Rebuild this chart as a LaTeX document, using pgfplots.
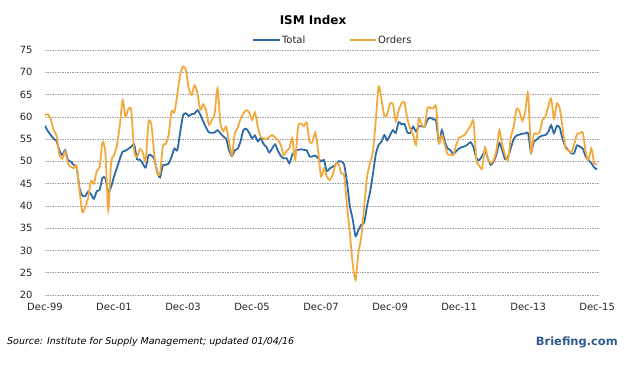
\documentclass[border=0pt]{standalone}
\usepackage{pgfplots}
\pgfplotsset{compat=1.18}
\usepackage{pgfplotstable}
\usepackage{fontspec}
\setmainfont{DejaVu Sans}
\definecolor{ismblue}{HTML}{2E6BA6}
\definecolor{ismorange}{HTML}{F2AA3E}
\definecolor{brief}{HTML}{2F5A8E}
\pgfplotstableread{
m T O
0 58.0 60.3
1 56.8 60.6
2 55.9 59.5
3 55.1 57.0
4 54.6 55.8
5 52.5 51.5
6 51.4 50.6
7 52.5 52.2
8 50.3 49.6
9 49.9 48.8
10 49.2 48.5
11 48.6 49.0
12 44.0 43.5
13 42.3 38.6
14 42.2 39.8
15 43.2 41.8
16 42.6 45.6
17 41.6 45.0
18 43.3 47.8
19 43.6 48.8
20 46.3 54.3
21 46.2 52.0
22 43.0 39.0
23 44.3 49.8
24 46.6 51.4
25 48.5 53.5
26 50.5 58.0
27 52.2 63.8
28 52.4 60.0
29 52.8 61.8
30 53.3 61.4
31 53.8 52.3
32 50.5 51.0
33 50.4 52.8
34 49.5 52.0
35 48.6 50.0
36 51.4 58.8
37 51.3 58.2
38 50.6 51.5
39 47.7 47.4
40 46.4 47.3
41 49.1 53.5
42 49.2 53.9
43 49.5 56.0
44 51.0 61.2
45 52.9 61.0
46 52.5 65.0
47 56.5 69.5
48 60.3 71.3
49 60.8 70.5
50 60.2 66.3
51 60.6 64.9
52 60.7 67.1
53 61.5 65.3
54 60.5 61.5
55 59.0 62.8
56 57.6 61.5
57 56.5 58.2
58 56.4 59.3
59 56.5 60.8
60 57.0 66.4
61 56.3 58.5
62 55.6 56.8
63 55.1 57.8
64 52.5 54.4
65 51.2 51.4
66 52.5 56.3
67 52.8 57.5
68 54.5 59.5
69 57.0 60.8
70 57.3 61.5
71 56.4 61.0
72 55.2 59.3
73 55.8 61.0
74 54.5 57.8
75 55.2 55.5
76 53.9 55.2
77 53.2 55.0
78 52.0 55.5
79 52.9 55.9
80 53.8 55.3
81 52.4 54.8
82 51.2 53.7
83 50.7 51.4
84 50.7 52.3
85 49.6 53.0
86 51.5 55.2
87 52.4 50.3
88 52.6 57.8
89 52.7 58.5
90 52.6 57.9
91 52.5 58.7
92 51.1 54.4
93 51.1 54.4
94 51.3 56.5
95 50.7 52.2
96 50.0 46.6
97 50.3 48.4
98 47.8 46.6
99 48.4 45.8
100 48.8 46.9
101 49.2 49.2
102 50.0 49.6
103 50.0 47.3
104 49.3 46.9
105 45.4 40.2
106 40.0 34.0
107 37.0 27.0
108 33.2 23.4
109 34.6 29.5
110 35.8 33.1
111 36.3 40.0
112 40.0 46.5
113 43.0 49.5
114 47.0 52.0
115 51.5 59.0
116 53.7 66.8
117 54.4 64.0
118 55.9 60.2
119 54.7 60.6
120 55.9 63.0
121 57.0 62.8
122 56.4 59.0
123 58.8 61.5
124 58.3 63.0
125 58.4 63.3
126 56.5 59.6
127 56.4 57.3
128 57.8 56.0
129 56.7 53.7
130 57.9 59.6
131 57.9 58.2
132 57.8 57.8
133 59.3 62.0
134 59.8 62.0
135 59.4 61.9
136 59.1 62.3
137 54.1 54.1
138 57.0 55.9
139 54.5 53.7
140 52.9 51.6
141 52.5 51.5
142 51.6 51.4
143 52.3 53.7
144 52.9 55.3
145 53.2 55.6
146 53.4 56.0
147 53.8 57.0
148 54.3 58.0
149 53.2 59.0
150 50.7 50.5
151 50.3 49.0
152 51.2 48.4
153 52.3 53.1
154 50.7 50.7
155 49.2 49.6
156 50.0 50.3
157 51.6 52.5
158 54.1 57.0
159 52.5 53.7
160 50.5 51.4
161 51.0 50.3
162 53.0 55.5
163 55.0 57.8
164 55.8 61.8
165 56.0 61.2
166 56.2 59.1
167 56.3 61.2
168 56.3 65.3
169 52.0 52.2
170 54.4 56.1
171 54.9 56.2
172 55.5 56.5
173 55.8 59.3
174 55.9 60.0
175 56.6 62.3
176 58.1 64.1
177 56.3 59.6
178 58.0 63.0
179 57.5 61.9
180 55.0 57.4
181 53.3 53.0
182 52.5 52.5
183 51.8 52.0
184 51.8 53.7
185 53.6 56.1
186 53.3 56.3
187 52.9 56.5
188 51.1 52.2
189 50.3 50.3
190 49.6 52.9
191 48.6 49.6
192 48.2 49.3
}\ismdata
\begin{document}
\begin{tikzpicture}
\path[use as bounding box] (-45bp,-72bp) rectangle (581bp,295bp);
\begin{axis}[
  at={(0,0)}, anchor=south west,
  scale only axis, width=555bp, height=245bp,
  xmin=0, xmax=193, ymin=20, ymax=75,
  ytick={20,25,...,75},
  xtick={0,24,...,192},
  xticklabels={Dec-99,Dec-01,Dec-03,Dec-05,Dec-07,Dec-09,Dec-11,Dec-13,Dec-15},
  axis line style={draw=none},
  tick style={draw=none},
  ymajorgrids,
  grid style={dash pattern=on 1.5bp off 1bp, color=gray!75, line width=0.6bp},
  tick label style={font=\fontsize{10}{12}\selectfont, text=black!85},
  /pgf/number format/assume math mode=true,
  yticklabel style={xshift=-9bp},
  xticklabel style={yshift=-5bp},
]
\addplot[ismblue, line width=1.8bp, smooth, tension=0.4] table[x=m, y=T] {\ismdata};
\addplot[ismorange, line width=1.8bp, smooth, tension=0.4] table[x=m, y=O] {\ismdata};
\end{axis}
\node[font=\bfseries\fontsize{12}{14}\selectfont] at (268bp,275bp) {ISM Index};
\draw[ismblue, line width=2bp] (208bp,255bp) -- (235bp,255bp) node[right, inner sep=1bp, text=black!85, font=\fontsize{10}{12}\selectfont] {Total};
\draw[ismorange, line width=2bp] (305bp,255bp) -- (331bp,255bp) node[right, inner sep=1bp, text=black!85, font=\fontsize{10}{12}\selectfont] {Orders};
\node[anchor=west, inner sep=0pt, font=\itshape\fontsize{9.5}{11}\selectfont] at (-38bp,-47bp) {Source: Institute for Supply Management; updated 01/04/16};
\node[anchor=east, inner sep=0pt, font=\bfseries\fontsize{11.5}{13}\selectfont, text=brief] at (573bp,-47bp) {Briefing.com};
\end{tikzpicture}
\end{document}
